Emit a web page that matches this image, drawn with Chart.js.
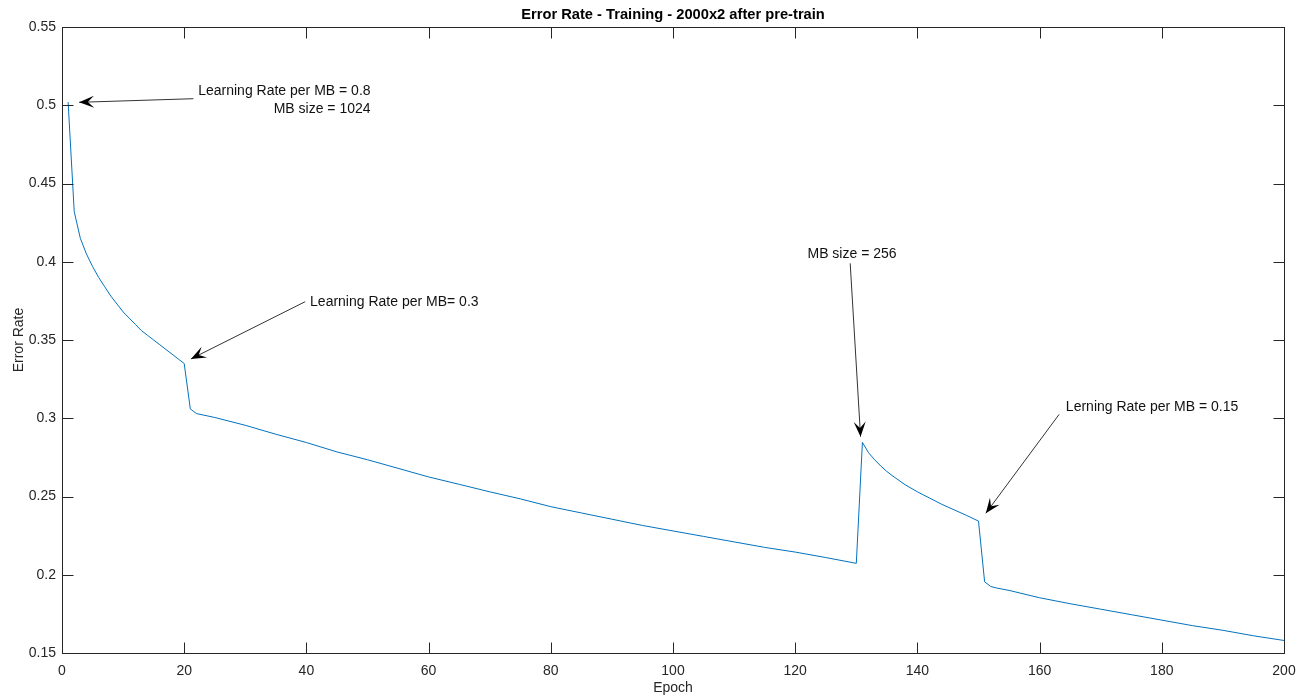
<!DOCTYPE html>
<html>
<head>
<meta charset="utf-8">
<script src="https://cdn.jsdelivr.net/npm/chart.js@4.4.1/dist/chart.umd.min.js"></script>
<style>
  body { margin: 0; background: #fff; }
  #errChart { display: block; }
</style>
</head>
<body>
<canvas id="errChart" width="1308" height="695"></canvas>
<script>
// values (epoch -> training error rate)
const epochs = [1, 2, 3, 4, 5, 6, 7, 8, 9, 10, 11, 12, 13, 14, 15, 16, 17, 18, 19, 20, 21, 22,
    25, 30, 35, 40, 45, 50, 55, 60, 65, 70, 75, 80, 85, 90, 95, 100, 105, 110, 115, 120, 125, 130,
    131, 132, 133, 134, 135, 136, 138, 140, 142, 144, 146, 148, 150,
    151, 152, 153, 155, 160, 165, 170, 175, 180, 185, 190, 195, 200];
const errorRate = [0.502, 0.432, 0.415, 0.405, 0.397, 0.390, 0.384, 0.378, 0.373, 0.368, 0.364,
    0.360, 0.356, 0.353, 0.350, 0.347, 0.344, 0.341, 0.338, 0.335, 0.306, 0.303,
    0.3005, 0.2955, 0.2898, 0.2845, 0.2785, 0.2735, 0.268, 0.2625, 0.2578, 0.253, 0.2485, 0.2435,
    0.2395, 0.2355, 0.2315, 0.228, 0.2245, 0.221, 0.2175, 0.2145, 0.211, 0.2073,
    0.2846, 0.278, 0.2735, 0.2695, 0.266, 0.263, 0.2575, 0.253, 0.249, 0.245, 0.2415, 0.238, 0.2343,
    0.1955, 0.1925, 0.1915, 0.190, 0.1853, 0.1815, 0.178, 0.1745, 0.171, 0.1675, 0.1645, 0.161, 0.158];

const xTicks = [0, 20, 40, 60, 80, 100, 120, 140, 160, 180, 200];
const yTicks = [0.15, 0.2, 0.25, 0.3, 0.35, 0.4, 0.45, 0.5, 0.55];

// text arrows, all in data units
const notes = [
    { lines: ['Learning Rate per MB = 0.8', 'MB size = 1024'], tx: 50.5, ty: 0.5093, align: 'right',
      from: [21.5, 0.5042], to: [2.8, 0.5019] },
    { lines: ['Learning Rate per MB= 0.3'], tx: 40.6, ty: 0.3739, align: 'left',
      from: [39.8, 0.3745], to: [21.1, 0.3379] },
    { lines: ['MB size = 256'], tx: 129.3, ty: 0.405, align: 'center',
      from: [129.0, 0.399], to: [130.7, 0.2882] },
    { lines: ['Lerning Rate per MB = 0.15'], tx: 164.3, ty: 0.3074, align: 'left',
      from: [163.2, 0.3025], to: [151.2, 0.2393] }
];

const FONT = "'Liberation Sans', Arial, Helvetica, sans-serif";
const AXIS = '#262626';

// box around the axes + inward ticks like matlab
const boxPlugin = {
    id: 'box',
    afterDraw(chart) {
        const c = chart.ctx, a = chart.chartArea;
        const xs = chart.scales.x, ys = chart.scales.y;
        const L = Math.round(a.left) + 0.5, R = Math.round(a.right) + 0.5;
        const T = Math.round(a.top) + 0.5, B = Math.round(a.bottom) + 0.5;
        c.save();
        c.strokeStyle = AXIS;
        c.lineWidth = 1;
        c.strokeRect(L, T, R - L, B - T);
        c.beginPath();
        xTicks.forEach(v => {
            const px = Math.round(xs.getPixelForValue(v)) + 0.5;
            c.moveTo(px, B); c.lineTo(px, B - 11);
            c.moveTo(px, T); c.lineTo(px, T + 11);
        });
        yTicks.forEach(v => {
            const py = Math.round(ys.getPixelForValue(v)) + 0.5;
            c.moveTo(L, py); c.lineTo(L + 11, py);
            c.moveTo(R, py); c.lineTo(R - 11, py);
        });
        c.stroke();
        c.restore();
    }
};

function arrowHead(c, x0, y0, x1, y1) {
    const len = 15, half = 6, back = 8.7;
    const d = Math.hypot(x1 - x0, y1 - y0);
    const ux = (x1 - x0) / d, uy = (y1 - y0) / d;
    const nx = -uy, ny = ux;
    c.beginPath();
    c.moveTo(x1, y1);
    c.lineTo(x1 - ux * len + nx * half, y1 - uy * len + ny * half);
    c.lineTo(x1 - ux * back, y1 - uy * back);
    c.lineTo(x1 - ux * len - nx * half, y1 - uy * len - ny * half);
    c.closePath();
    c.fill();
}

const notesPlugin = {
    id: 'notes',
    afterDatasetsDraw(chart) {
        const c = chart.ctx;
        const xs = chart.scales.x, ys = chart.scales.y;
        c.save();
        notes.forEach(n => {
            const x0 = xs.getPixelForValue(n.from[0]), y0 = ys.getPixelForValue(n.from[1]);
            const x1 = xs.getPixelForValue(n.to[0]), y1 = ys.getPixelForValue(n.to[1]);
            c.strokeStyle = '#333';
            c.lineWidth = 1;
            c.beginPath();
            c.moveTo(x0, y0);
            c.lineTo(x1, y1);
            c.stroke();
            c.fillStyle = '#000';
            arrowHead(c, x0, y0, x1, y1);

            c.font = '14px ' + FONT;
            c.textAlign = n.align;
            c.textBaseline = 'middle';
            c.fillStyle = '#111';
            const tx = xs.getPixelForValue(n.tx);
            let ty = ys.getPixelForValue(n.ty);
            n.lines.forEach(line => {
                c.fillText(line, tx, ty);
                ty += 18.3;
            });
        });
        c.restore();
    }
};

const chart = new Chart(document.getElementById('errChart'), {
    type: 'line',
    data: {
        datasets: [{
            data: epochs.map((e, i) => ({ x: e, y: errorRate[i] })),
            borderColor: '#0072BD',
            borderWidth: 1,
            pointRadius: 0,
            tension: 0,
            fill: false
        }]
    },
    options: {
        responsive: false,
        animation: false,
        devicePixelRatio: 1,
        layout: { padding: { left: 0, right: 24, top: 0, bottom: 0 } },
        plugins: {
            legend: { display: false },
            tooltip: { enabled: false },
            title: {
                display: true,
                fullSize: false,
                text: 'Error Rate - Training - 2000x2 after pre-train',
                color: '#000',
                font: { family: FONT, size: 14.7, weight: 'bold', lineHeight: 1.2 },
                padding: { top: 6, bottom: 3.4 }
            }
        },
        scales: {
            x: {
                type: 'linear',
                min: 0,
                max: 200,
                afterBuildTicks: s => { s.ticks = xTicks.map(v => ({ value: v })); },
                afterFit: s => { s.height = 42; },
                grid: { display: false, drawTicks: false },
                border: { display: false },
                ticks: { color: AXIS, padding: 10, font: { family: FONT, size: 14 } },
                title: {
                    display: true, text: 'Epoch', color: AXIS,
                    font: { family: FONT, size: 14, lineHeight: 1 }, padding: 0
                }
            },
            y: {
                min: 0.15,
                max: 0.55,
                afterBuildTicks: s => { s.ticks = yTicks.map(v => ({ value: v })); },
                afterFit: s => { s.width = 62; },
                grid: { display: false, drawTicks: false },
                border: { display: false },
                ticks: {
                    color: AXIS, padding: 6, font: { family: FONT, size: 14 },
                    callback: v => String(+v.toFixed(2))
                },
                title: {
                    display: true, text: 'Error Rate', color: AXIS,
                    font: { family: FONT, size: 14, lineHeight: 1.2 }, padding: { top: 11, bottom: 0 }
                }
            }
        }
    },
    plugins: [boxPlugin, notesPlugin]
});
</script>
</body>
</html>
